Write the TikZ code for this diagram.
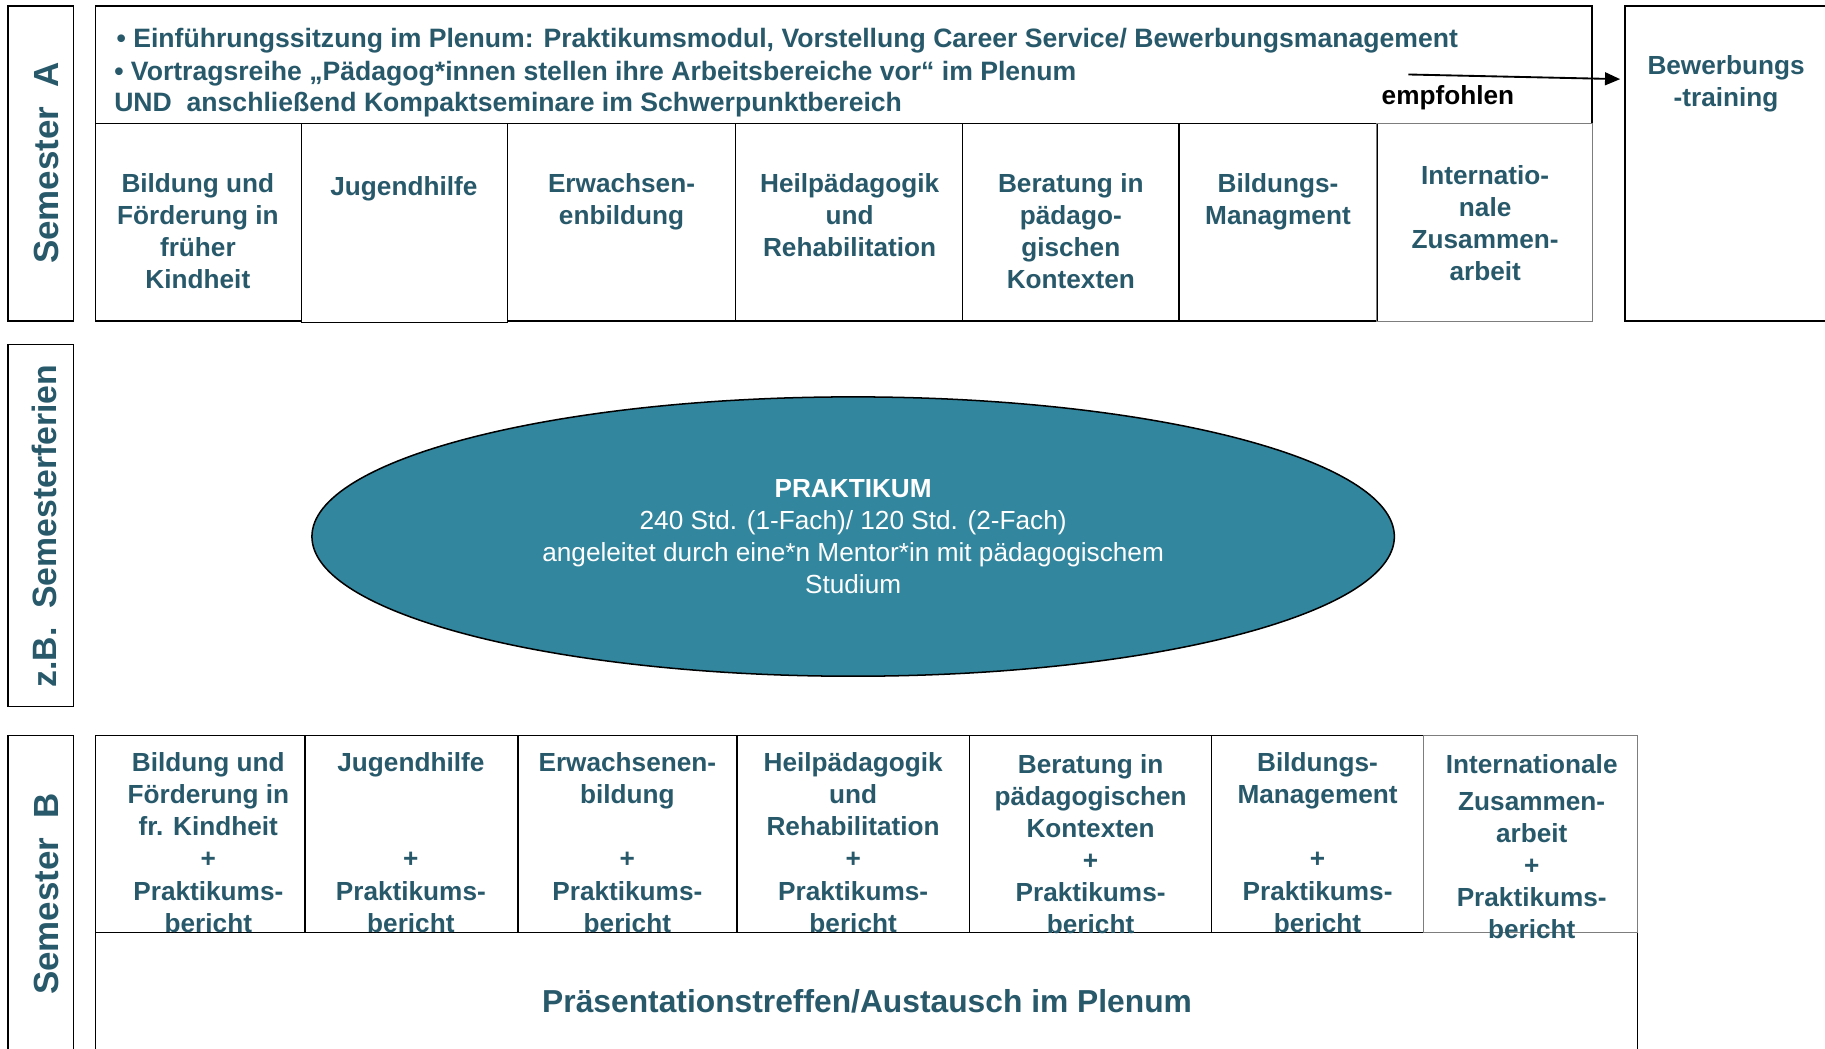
\documentclass[tikz,border=0pt]{standalone}
\usepackage{fontspec}
\setmainfont{Liberation Sans}
\usetikzlibrary{shapes.geometric,arrows.meta}
\definecolor{tealtxt}{RGB}{40,89,107}
\definecolor{tealfill}{RGB}{50,134,158}
\definecolor{bordergray}{RGB}{125,125,125}
\tikzset{
 boxline/.style={draw=black,line width=1.3pt},
 grayline/.style={draw=bordergray,line width=1pt},
 celltext/.style={anchor=north,inner sep=0pt,align=center,text=tealtxt,
   font=\fontsize{22.5pt}{27.5pt}\selectfont\bfseries,execute at begin node={\strut}},
 sidelabel/.style={rotate=90,inner sep=0pt,text=tealtxt,font=\fontsize{30pt}{34pt}\selectfont\bfseries},
 headline/.style={anchor=base west,inner sep=0pt,text=tealtxt,font=\fontsize{22.85pt}{27pt}\selectfont\bfseries},
}
\begin{document}
\begin{tikzpicture}[x=1pt,y=-1pt]
\useasboundingbox (0,0) rectangle (1568,901);
\clip (0,0) rectangle (1568,901);
\fill[white] (0,0) rectangle (1568,901);

% ---------- Semester A ----------
\draw[boxline] (7,5) rectangle (63,276);
\node[sidelabel] (semA) at (40,140) {Semester\ \ A};

\draw[boxline] (82,5) rectangle (1368,106);
\node[headline] (h1) at (100,41) {• Einführungssitzung im Plenum: Praktikumsmodul, Vorstellung Career Service/ Bewerbungsmanagement};
\node[headline] (h2) at (98,69) {• Vortragsreihe „Pädagog*innen stellen ihre Arbeitsbereiche vor“ im Plenum};
\node[headline] (h3) at (98,96) {UND\ \ anschließend Kompaktseminare im Schwerpunktbereich};
\node[anchor=center,inner sep=0pt,font=\fontsize{22.5pt}{27pt}\selectfont\bfseries] (emp) at (1244,84) {empfohlen};

\draw[boxline] (82,106) rectangle (259,276);
\draw[boxline] (259,106) rectangle (436,277);
\draw[boxline] (436,106) rectangle (632,276);
\draw[boxline] (632,106) rectangle (827,276);
\draw[boxline] (827,106) rectangle (1013,276);
\draw[boxline] (1013,106) rectangle (1183,276);
\draw[grayline] (1183,106) rectangle (1368,276);

\node[celltext] (a1) at (170,148.75) {Bildung und\\Förderung in\\früher\\Kindheit};
\node[celltext] (a2) at (347,148.75) {Jugendhilfe};
\node[celltext] (a3) at (534,148.75) {Erwachsen-\\enbildung};
\node[celltext] (a4) at (730,148.75) {Heilpädagogik\\und\\Rehabilitation};
\node[celltext] (a5) at (920,148.75) {Beratung in\\pädago-\\gischen\\Kontexten};
\node[celltext] (a6) at (1098,148.75) {Bildungs-\\Managment};
\node[celltext] (a7) at (1276,141.75) {Internatio-\\nale\\Zusammen-\\arbeit};

\draw[boxline] (1396,5) rectangle (1600,276);
\node[celltext] (bew) at (1483,47.5) {Bewerbungs\\-training};

\coordinate (arrS) at (1210,64);
\coordinate (arrE) at (1392,68);
\draw[line width=1.6pt,-{Triangle[length=13pt,width=11pt]}] (arrS) -- (arrE);

% ---------- Semesterferien ----------
\draw[boxline] (7,296) rectangle (63,607);
\node[sidelabel,font=\fontsize{29pt}{34pt}\selectfont\bfseries] (semF) at (38,452) {z.B.\ \ Semesterferien};

\node[ellipse,draw=black,line width=1.3pt,fill=tealfill,minimum width=930pt,minimum height=240pt,
  inner sep=0pt,align=center,text=white,font=\fontsize{22.5pt}{27.5pt}\selectfont] (prak) at (733,461)
  {\textbf{PRAKTIKUM}\\240 Std. (1-Fach)/ 120 Std. (2-Fach)\\angeleitet durch eine*n Mentor*in mit pädagogischem\\Studium};

% ---------- Semester B ----------
\draw[boxline] (7,632) rectangle (63,930);
\node[sidelabel] (semB) at (40,768) {Semester\ \ B};

\draw[boxline] (82,801) rectangle (1407,930);
\node[inner sep=0pt,text=tealtxt,font=\fontsize{27.3pt}{32pt}\selectfont\bfseries] (praes) at (745,860) {Präsentationstreffen/Austausch im Plenum};

\draw[boxline] (82,632) rectangle (262,801);
\draw[boxline] (262,632) rectangle (445,801);
\draw[boxline] (445,632) rectangle (633,801);
\draw[boxline] (633,632) rectangle (833,801);
\draw[boxline] (833,632) rectangle (1041,801);
\draw[boxline] (1041,632) rectangle (1223,801);
\draw[grayline] (1223,632) rectangle (1407,801);

\node[celltext] (b1) at (179,646.75) {Bildung und\\Förderung in\\fr. Kindheit\\+\\Praktikums-\\bericht};
\node[celltext] (b2) at (353,646.75) {Jugendhilfe\\~\\~\\+\\Praktikums-\\bericht};
\node[celltext] (b3) at (539,646.75) {Erwachsenen-\\bildung\\~\\+\\Praktikums-\\bericht};
\node[celltext] (b4) at (733,646.75) {Heilpädagogik\\und\\Rehabilitation\\+\\Praktikums-\\bericht};
\node[celltext] (b5) at (937,647.75) {Beratung in\\pädagogischen\\Kontexten\\+\\Praktikums-\\bericht};
\node[celltext] (b6) at (1132,646.75) {Bildungs-\\Management\\~\\+\\Praktikums-\\bericht};
\node[celltext] (b7) at (1316,647.75) {Internationale\\[4.5pt]Zusammen-\\arbeit\\+\\Praktikums-\\bericht};
\end{tikzpicture}
\end{document}
